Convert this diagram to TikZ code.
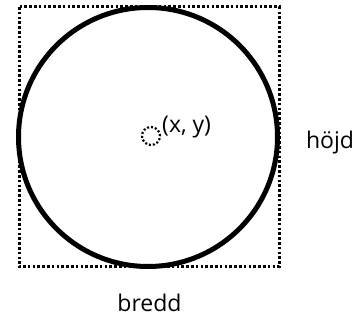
\documentclass[tikz,border=0pt]{standalone}
\usepackage{fontspec}
\setmainfont{Open Sans}
\begin{document}
\begin{tikzpicture}[x=1pt,y=-1pt,
  lbl/.style={inner sep=0pt,anchor=base,font=\fontsize{23}{27}\selectfont},
  box/.style={line width=3pt,dash pattern=on 2.6pt off 2.2pt},
  big/.style={line width=5pt},
  small/.style={line width=2.2pt,dash pattern=on 2pt off 2pt}]
\useasboundingbox (0,0) rectangle (359,320);
\draw[box] (19,7) rectangle (279,267);
\node[big,draw,circle,minimum size=259pt,inner sep=0pt] (c) at (148,137) {};
\node[small,draw,circle,minimum size=18pt,inner sep=0pt] (p) at (151,136) {};
\node[lbl,anchor=base west] (xy) at (162,133) {(x, y)};
\node[lbl] (h) at (330,149) {höjd};
\node[lbl] (b) at (149.5,312) {bredd};
\end{tikzpicture}
\end{document}
